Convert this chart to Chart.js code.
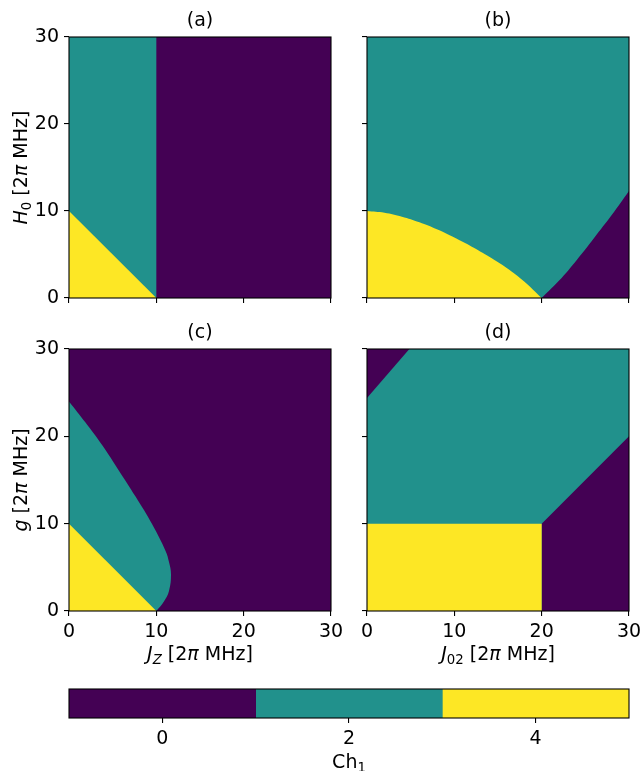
<!DOCTYPE html>
<html>
<head>
<meta charset="utf-8">
<script src="https://cdn.jsdelivr.net/npm/chart.js@4.4.1/dist/chart.umd.min.js"></script>
<style>
    body { margin: 0; background: #fff; overflow: hidden; }
    #wrap { position: relative; width: 640px; height: 771px; background: #fff; overflow: hidden; }
    #wrap canvas { position: absolute; }
</style>
</head>
<body>
<div id="wrap">
    <canvas id="panelA" style="left:0;top:0"></canvas>
    <canvas id="panelB" style="left:340px;top:0"></canvas>
    <canvas id="panelC" style="left:0;top:320px"></canvas>
    <canvas id="panelD" style="left:340px;top:320px"></canvas>
    <canvas id="cbar" style="left:0;top:670px"></canvas>
</div>
<script>
// viridis colours for Ch1 = 0, 2, 4
var chColors = ['#440154', '#21918c', '#fde725'];
var cbarTicks = [0, 2, 4];
var cbarEdges = [-1, 1, 3, 5];
var axisTicks = [0, 10, 20, 30];

// full plot range (background region)
var full_x = [0, 0, 30, 30];
var full_y = [0, 30, 30, 0];

// (a) J_Z vs H_0
var aTeal_x = [0, 0, 10, 10];
var aTeal_y = [0, 30, 30, 0];
var aYellow_x = [0, 0, 10];
var aYellow_y = [0, 10, 0];

// (b) boundaries (filled down to H_0 = 0)
var bArc_x = [0, 2, 4, 6, 8, 10, 12, 14, 16, 18, 20];
var bArc_y = [10, 9.8, 9.35, 8.7, 7.9, 6.95, 5.9, 4.75, 3.45, 1.9, 0];
var bEdge_x = [20, 22, 24, 26, 28, 30];
var bEdge_y = [0, 2.0, 4.35, 6.9, 9.5, 12.3];

// (c) teal lobe boundary (filled left to J_Z = 0), ordered along g
var cLobe_x = [10, 10.87, 11.45, 11.68, 11.45, 11.07, 9.54, 7.62, 5.7, 3.79, 1.87, 0];
var cLobe_y = [0, 1.1, 2.3, 4.2, 5.6, 6.85, 9.9, 13.1, 16.1, 19.0, 21.6, 24];
var cYellow_x = [0, 0, 10];
var cYellow_y = [0, 10, 0];

// (d) J_02 vs g
var dCorner_x = [0, 0, 4.85];
var dCorner_y = [24.4, 30, 30];
var dPurple_x = [20, 20, 30, 30];
var dPurple_y = [0, 10, 20, 0];
var dYellow_x = [0, 0, 20, 20];
var dYellow_y = [0, 10, 10, 0];

Chart.defaults.font.family = '"DejaVu Sans"';
Chart.defaults.font.size = 19;
Chart.defaults.color = '#000';

var FONT = 19;

var drawRich = function (ctx, it) {
    var parts = it.parts.map(function (p) {
        var sz = p.sub ? FONT * 0.7 : FONT;
        return { t: p.t, sub: p.sub, font: (p.i ? 'italic ' : '') + sz + 'px "DejaVu Sans"' };
    });
    ctx.save();
    var w = 0;
    parts.forEach(function (p) { ctx.font = p.font; p.w = ctx.measureText(p.t).width; w += p.w; });
    ctx.translate(it.x, it.y);
    if (it.rot) ctx.rotate(it.rot);
    ctx.fillStyle = '#000';
    ctx.textBaseline = 'alphabetic';
    var x = -w / 2;
    var base = FONT * 0.36;
    parts.forEach(function (p) {
        ctx.font = p.font;
        ctx.fillText(p.t, x, base + (p.sub ? FONT * 0.22 : 0));
        x += p.w;
    });
    ctx.restore();
};

var richLabels = {
    id: 'richLabels',
    afterDraw: function (chart, args, opts) {
        (opts.items || []).forEach(function (it) { drawRich(chart.ctx, it); });
    }
};

var frame = {
    id: 'frame',
    afterDatasetsDraw: function (chart) {
        var a = chart.chartArea, ctx = chart.ctx;
        ctx.save();
        ctx.strokeStyle = '#000';
        ctx.lineWidth = 1.1;
        ctx.strokeRect(a.left, a.top, a.right - a.left, a.bottom - a.top);
        ctx.restore();
    }
};

var toPts = function (xs, ys) {
    return xs.map(function (x, i) { return { x: x, y: ys[i] }; });
};

// closed polygon
var poly = function (xs, ys, color, order) {
    return {
        data: toPts(xs, ys),
        fill: 'shape',
        backgroundColor: color,
        borderColor: 'rgba(0,0,0,0)',
        borderWidth: 0,
        pointRadius: 0,
        tension: 0,
        order: order
    };
};

// smooth boundary filled to the axis at 0
var curve = function (xs, ys, color, order, axis) {
    return {
        data: toPts(xs, ys),
        indexAxis: axis,
        fill: 'origin',
        backgroundColor: color,
        borderColor: 'rgba(0,0,0,0)',
        borderWidth: 0,
        pointRadius: 0,
        tension: 0.4,
        order: order
    };
};

var unitLabel = function (sym, sub, symItalic, subItalic) {
    return [
        { t: sym, i: symItalic },
        { t: sub, sub: true, i: subItalic },
        { t: ' [2' }, { t: 'π', i: true }, { t: ' MHz]' }
    ];
};

var makePanel = function (id, w, h, opt) {
    var canvas = document.getElementById(id);
    canvas.width = w; canvas.height = h;
    canvas.style.width = w + 'px'; canvas.style.height = h + 'px';
    return new Chart(canvas, {
        type: 'line',
        data: { datasets: opt.datasets },
        options: {
            responsive: false,
            animation: false,
            layout: { padding: { left: 0, right: opt.padRight, top: 0, bottom: 0 } },
            plugins: {
                legend: { display: false },
                tooltip: { enabled: false },
                title: {
                    display: true, text: opt.title, fullSize: false,
                    font: { size: FONT, weight: 'normal' },
                    padding: { top: opt.titleTop, bottom: 4.1 }
                },
                richLabels: { items: opt.labels }
            },
            scales: {
                x: {
                    type: 'linear', min: 0, max: 30,
                    afterBuildTicks: function (s) { s.ticks = axisTicks.map(function (v) { return { value: v }; }); },
                    afterFit: function (s) { s.height = opt.xHeight; },
                    grid: { drawOnChartArea: false, drawTicks: true, tickLength: 5, color: '#000', lineWidth: 1.1 },
                    border: { display: false },
                    ticks: { display: opt.xLabels, padding: 5, maxRotation: 0, font: { size: FONT } }
                },
                y: {
                    type: 'linear', min: 0, max: 30,
                    afterBuildTicks: function (s) { s.ticks = axisTicks.map(function (v) { return { value: v }; }); },
                    afterFit: function (s) { s.width = opt.yWidth; },
                    grid: { drawOnChartArea: false, drawTicks: true, tickLength: 5, color: '#000', lineWidth: 1.1 },
                    border: { display: false },
                    ticks: { display: opt.yLabels, padding: 5, font: { size: FONT } }
                }
            }
        },
        plugins: [frame, richLabels]
    });
};

makePanel('panelA', 340, 320, {
    title: '(a)', titleTop: 10.1, padRight: 9, yWidth: 69, xHeight: 22, xLabels: false, yLabels: true,
    datasets: [
        poly(aYellow_x, aYellow_y, chColors[2], 0),
        poly(aTeal_x, aTeal_y, chColors[1], 1),
        poly(full_x, full_y, chColors[0], 2)
    ],
    labels: [{ x: 20, y: 167.5, rot: -Math.PI / 2, parts: unitLabel('H', '0', true, false) }]
});

makePanel('panelB', 300, 320, {
    title: '(b)', titleTop: 10.1, padRight: 11, yWidth: 27, xHeight: 22, xLabels: false, yLabels: false,
    datasets: [
        curve(bArc_x, bArc_y, chColors[2], 0, 'x'),
        curve(bEdge_x, bEdge_y, chColors[0], 1, 'x'),
        poly(full_x, full_y, chColors[1], 2)
    ],
    labels: []
});

makePanel('panelC', 360, 350, {
    title: '(c)', titleTop: 2.1, padRight: 29, yWidth: 69, xHeight: 59, xLabels: true, yLabels: true,
    datasets: [
        poly(cYellow_x, cYellow_y, chColors[2], 0),
        curve(cLobe_x, cLobe_y, chColors[1], 1, 'y'),
        poly(full_x, full_y, chColors[0], 2)
    ],
    labels: [
        { x: 20, y: 160, rot: -Math.PI / 2, parts: [{ t: 'g', i: true }, { t: ' [2' }, { t: 'π', i: true }, { t: ' MHz]' }] },
        { x: 200, y: 333, parts: unitLabel('J', 'Z', true, true) }
    ]
});

makePanel('panelD', 320, 350, {
    title: '(d)', titleTop: 2.1, padRight: 31, yWidth: 27, xHeight: 59, xLabels: true, yLabels: false,
    datasets: [
        poly(dYellow_x, dYellow_y, chColors[2], 0),
        poly(dPurple_x, dPurple_y, chColors[0], 1),
        poly(dCorner_x, dCorner_y, chColors[0], 1),
        poly(full_x, full_y, chColors[1], 2)
    ],
    labels: [{ x: 158, y: 333, parts: unitLabel('J', '02', true, false) }]
});

// colorbar
var cb = document.getElementById('cbar');
cb.width = 640; cb.height = 101;
cb.style.width = '640px'; cb.style.height = '101px';
new Chart(cb, {
    type: 'bar',
    data: {
        labels: ['Ch1'],
        datasets: chColors.map(function (c, i) {
            return {
                data: [[cbarEdges[i], cbarEdges[i + 1]]],
                backgroundColor: c, borderWidth: 0,
                barPercentage: 1, categoryPercentage: 1, grouped: false
            };
        })
    },
    options: {
        responsive: false,
        animation: false,
        indexAxis: 'y',
        layout: { padding: { left: 69, right: 11, top: 19, bottom: 0 } },
        plugins: {
            legend: { display: false },
            tooltip: { enabled: false },
            richLabels: { items: [{ x: 349, y: 91, parts: [{ t: 'Ch' }, { t: '1', sub: true }] }] }
        },
        scales: {
            y: { display: false },
            x: {
                type: 'linear', min: -1, max: 5,
                afterBuildTicks: function (s) { s.ticks = cbarTicks.map(function (v) { return { value: v }; }); },
                afterFit: function (s) { s.height = 53; },
                grid: { drawOnChartArea: false, drawTicks: true, tickLength: 5, color: '#000', lineWidth: 1.1 },
                border: { display: false },
                ticks: { padding: 5, font: { size: FONT } }
            }
        }
    },
    plugins: [frame, richLabels]
});
</script>
</body>
</html>
